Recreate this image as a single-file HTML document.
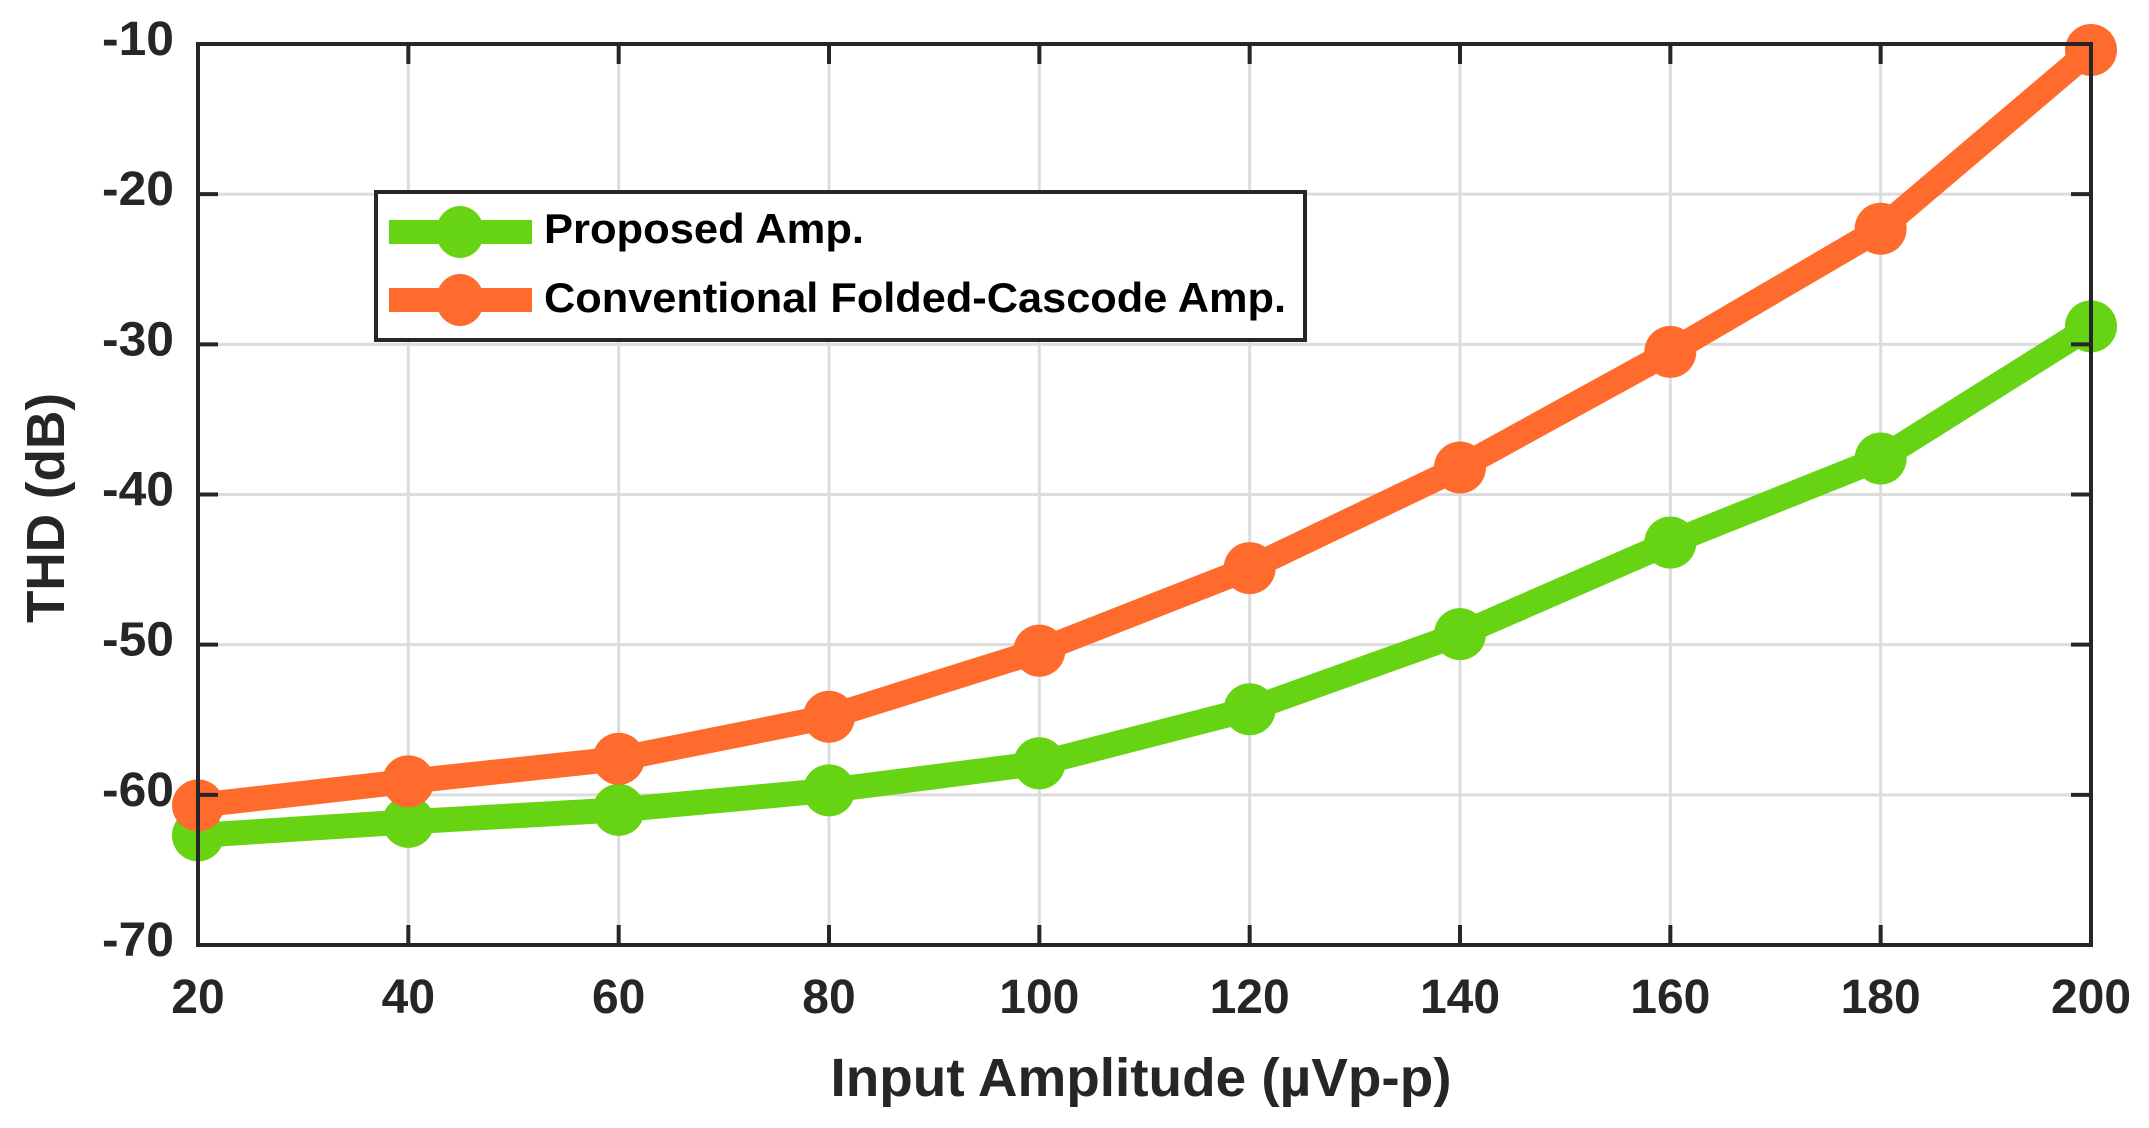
<!DOCTYPE html>
<html><head><meta charset="utf-8"><style>
html,body{margin:0;padding:0;background:#fff;}
svg{display:block;}
text{font-family:"Liberation Sans",sans-serif;font-weight:bold;fill:#262626;}
</style></head><body>
<svg id="chart" width="2149" height="1128" viewBox="0 0 2149 1128" xmlns="http://www.w3.org/2000/svg">
<rect x="0" y="0" width="2149" height="1128" fill="#fff"/>
<g id="grid"></g>
<g id="series"></g>
<rect x="198" y="44" width="1893" height="901" fill="none" stroke="#262626" stroke-width="4"/>
<g id="ticks"></g>
<text x="1141" y="1096" text-anchor="middle" font-size="54" textLength="621" lengthAdjust="spacingAndGlyphs">Input Amplitude (µVp-p)</text>
<text transform="translate(64,508) rotate(-90)" text-anchor="middle" font-size="54" textLength="230" lengthAdjust="spacingAndGlyphs">THD (dB)</text>
<g>
<rect x="376" y="192" width="929" height="148" fill="#fff" stroke="#262626" stroke-width="4"/>
<g>
<line x1="389" y1="232" x2="532" y2="232" stroke="#66d313" stroke-width="24"/>
<ellipse cx="460" cy="232" rx="24" ry="26" fill="#66d313"/>
<text x="544" y="243" font-size="42" fill="#000" textLength="320" lengthAdjust="spacingAndGlyphs" style="fill:#000">Proposed Amp.</text>
</g>
<g>
<line x1="389" y1="300" x2="532" y2="300" stroke="#ff6b2c" stroke-width="24"/>
<ellipse cx="460" cy="300" rx="24" ry="26" fill="#ff6b2c"/>
<text x="544" y="312" font-size="42" textLength="742" lengthAdjust="spacingAndGlyphs" style="fill:#000">Conventional Folded-Cascode Amp.</text>
</g>
</g>
</svg>
<script>
const categories = [20, 40, 60, 80, 100, 120, 140, 160, 180, 200];
const proposedValues = [-62.7, -61.8, -61.0, -59.7, -57.9, -54.3, -49.3, -43.2, -37.6, -28.8];
const conventionalValues = [-60.7, -59.1, -57.6, -54.8, -50.4, -44.9, -38.2, -30.5, -22.3, -10.4];
const xTicks = [20, 40, 60, 80, 100, 120, 140, 160, 180, 200];
const yTicks = [-10, -20, -30, -40, -50, -60, -70];

const NS = "http://www.w3.org/2000/svg";
const L = 198, R = 2091, T = 44, B = 945;
function xScale(v){ return L + (v - 20) / 180 * (R - L); }
function yScale(v){ return T + (-10 - v) / 60 * (B - T); }
function mk(tag, attrs, parent){
  const e = document.createElementNS(NS, tag);
  for (const k in attrs) e.setAttribute(k, attrs[k]);
  parent.appendChild(e);
  return e;
}
const grid = document.getElementById('grid');
const ticks = document.getElementById('ticks');
const series = document.getElementById('series');

xTicks.forEach(v => {
  const x = xScale(v);
  const g = mk('line', {x1:x, y1:T, x2:x, y2:B, stroke:'#dcdcdc', 'stroke-width':3}, grid);
  
  
  const t1 = mk('line', {x1:x, y1:B, x2:x, y2:B-20, stroke:'#262626', 'stroke-width':4}, ticks);
  
  
  const t2 = mk('line', {x1:x, y1:T, x2:x, y2:T+20, stroke:'#262626', 'stroke-width':4}, ticks);
  
  
  const lb = mk('text', {x:x, y:1013, 'text-anchor':'middle', 'font-size':48}, ticks);
  lb.textContent = v;
  
  
});
yTicks.forEach(v => {
  const y = yScale(v);
  const g = mk('line', {x1:L, y1:y, x2:R, y2:y, stroke:'#dcdcdc', 'stroke-width':3}, grid);
  
  
  const t1 = mk('line', {x1:L, y1:y, x2:L+20, y2:y, stroke:'#262626', 'stroke-width':4}, ticks);
  
  
  const t2 = mk('line', {x1:R, y1:y, x2:R-20, y2:y, stroke:'#262626', 'stroke-width':4}, ticks);
  
  
  const lb = mk('text', {x:174, y:y+11, 'text-anchor':'end', 'font-size':48, textLength:72, lengthAdjust:'spacingAndGlyphs'}, ticks);
  lb.textContent = v;
  
  
});
function drawSeries(vals, color, name){
  const pts = categories.map((c,i) => xScale(c) + ',' + yScale(vals[i])).join(' ');
  const pl = mk('polyline', {points:pts, fill:'none', stroke:color, 'stroke-width':25, 'stroke-linejoin':'round'}, series);
  
  
  categories.forEach((c,i) => {
    const m = mk('circle', {cx:xScale(c), cy:yScale(vals[i]), r:26, fill:color}, series);
    
    
  });
}
drawSeries(proposedValues, '#66d313', 'proposed');
drawSeries(conventionalValues, '#ff6b2c', 'conventional');
</script>
</body></html>
